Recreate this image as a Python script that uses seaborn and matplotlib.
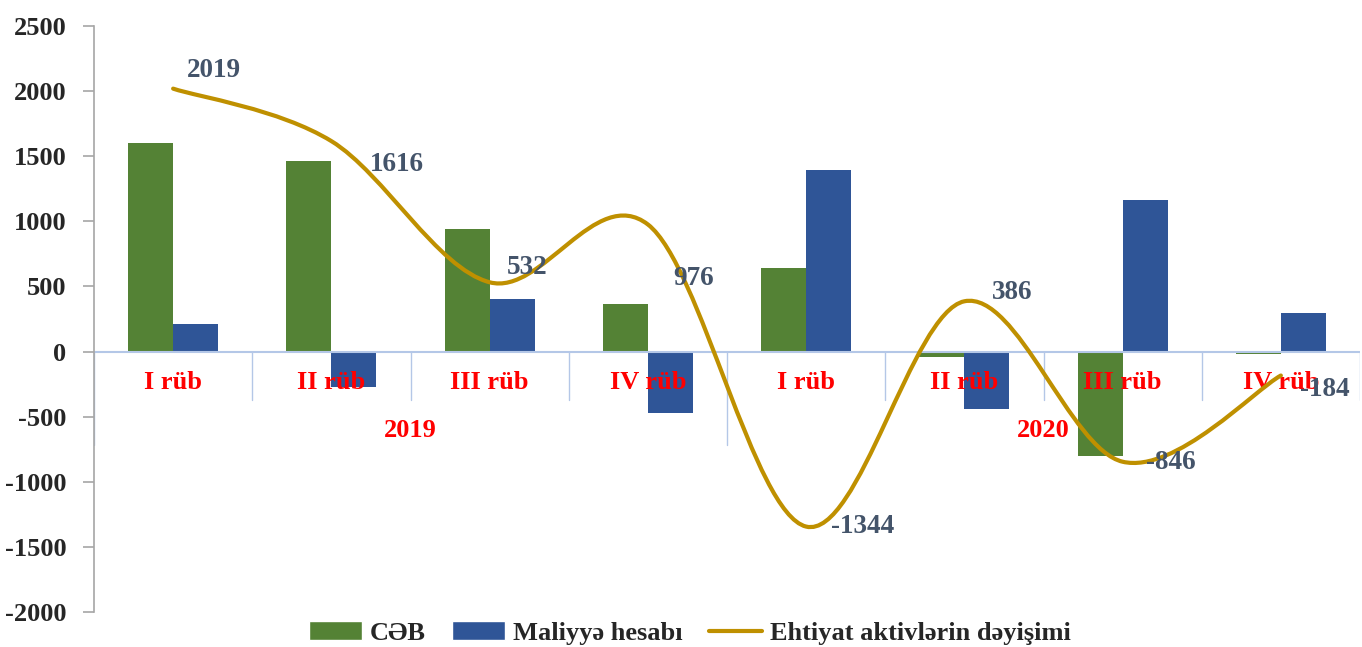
import numpy as np
import pandas as pd
import matplotlib
matplotlib.use("Agg")
import matplotlib.pyplot as plt
from matplotlib.path import Path
from matplotlib.patches import PathPatch, Patch
from matplotlib.lines import Line2D
import seaborn as sns

# Rüblər üzrə göstəricilər (mln. ABŞ dolları)
rubler = ["I rüb", "II rüb", "III rüb", "IV rüb", "I rüb", "II rüb", "III rüb", "IV rüb"]
iller = ["2019", "2020"]
ceb = [1600, 1460, 940, 365, 645, -45, -800, -15]
maliyye = [215, -270, 400, -470, 1395, -440, 1160, 295]
ehtiyat = [2019, 1616, 532, 976, -1344, 386, -846, -184]

yasil = "#548235"
goy = "#2F5597"
qizili = "#BF9000"
etiket_reng = "#44546A"
xett_reng = "#B4C7E7"

sns.set_theme(style="white")
plt.rcParams["font.family"] = ["Liberation Serif", "DejaVu Serif"]
plt.rcParams["font.weight"] = "bold"
plt.rcParams["axes.unicode_minus"] = False

n = len(rubler)
df = pd.DataFrame({
    "rub": list(range(n)) * 2,
    "deyer": ceb + maliyye,
    "seriya": ["CƏB"] * n + ["Maliyyə hesabı"] * n,
})

fig = plt.figure(figsize=(13.62, 6.47), dpi=100)
ax = fig.add_axes([94 / 1362, 1 - 612 / 647, 1266 / 1362, 586 / 647])

sns.barplot(data=df, x="rub", y="deyer", hue="seriya", palette=[yasil, goy],
            width=0.57, saturation=1, gap=0, ax=ax, legend=False, linewidth=0)

ax.set_xlim(-0.5, n - 0.5)
ax.set_ylim(-2000, 2500)
ax.set_yticks(np.arange(-2000, 2501, 500))
ax.set_xticks([])
ax.set_xlabel("")
ax.set_ylabel("")
for s in ["top", "right", "bottom"]:
    ax.spines[s].set_visible(False)
ax.spines["left"].set_color("#A6A6A6")
ax.spines["left"].set_linewidth(1.2)
ax.tick_params(axis="y", length=8, width=1.2, color="#A6A6A6", left=True,
               labelsize=19, pad=12)
for t in ax.get_yticklabels():
    t.set_fontweight("bold")

# sıfır xətti və kateqoriya ayırıcıları
ax.axhline(0, color=xett_reng, lw=1.5, zorder=1)
for i in range(n + 1):
    alt = -715 if i in (0, 4) else -370
    ax.plot([i - 0.5, i - 0.5], [0, alt], color=xett_reng, lw=1, zorder=1)

# hamarlanmış xətt (Catmull-Rom -> Bezier)
x = np.arange(n, dtype=float)
y = np.array(ehtiyat, dtype=float)
verts = [(x[0], y[0])]
codes = [Path.MOVETO]
for i in range(n - 1):
    p0 = (x[max(i - 1, 0)], y[max(i - 1, 0)])
    p1 = (x[i], y[i])
    p2 = (x[i + 1], y[i + 1])
    p3 = (x[min(i + 2, n - 1)], y[min(i + 2, n - 1)])
    c1 = (p1[0] + (p2[0] - p0[0]) / 6, p1[1] + (p2[1] - p0[1]) / 6)
    c2 = (p2[0] - (p3[0] - p1[0]) / 6, p2[1] - (p3[1] - p1[1]) / 6)
    verts += [c1, c2, p2]
    codes += [Path.CURVE4] * 3
ax.add_patch(PathPatch(Path(verts, codes), fill=False, edgecolor=qizili, lw=3,
                       capstyle="round", zorder=4))

# xətt etiketləri (piksel sürüşmələri)
surusme = [(41, 18), (65, -23), (38, 15), (46, -54), (56, 0), (48, 9), (48, -1), (44, -14)]
for i, v in enumerate(ehtiyat):
    dx, dy = surusme[i]
    ax.annotate(str(v), (i, v), xytext=(dx * 0.72, dy * 0.72), textcoords="offset points",
                ha="center", va="center", fontsize=19.5, fontweight="bold",
                color=etiket_reng, zorder=5)

# kateqoriya etiketləri
for i, r in enumerate(rubler):
    ax.text(i, -238, r, ha="center", va="center", fontsize=19, fontweight="bold",
            color="red", zorder=3)
for j, il in enumerate(iller):
    ax.text(1.5 + 4 * j, -607, il, ha="center", va="center", fontsize=19,
            fontweight="bold", color="red", zorder=3)

handles = [Patch(facecolor=yasil, label="CƏB"),
           Patch(facecolor=goy, label="Maliyyə hesabı"),
           Line2D([0], [0], color=qizili, lw=3, label="Ehtiyat aktivlərin dəyişimi")]
fig.legend(handles=handles, loc="center", bbox_to_anchor=(690 / 1362, 1 - 633 / 647),
           ncol=3, frameon=False, handlelength=2.0, handleheight=0.7,
           handletextpad=0.3, columnspacing=1.0, prop={"weight": "bold", "size": 19})

fig.savefig("out.png", dpi=100)
